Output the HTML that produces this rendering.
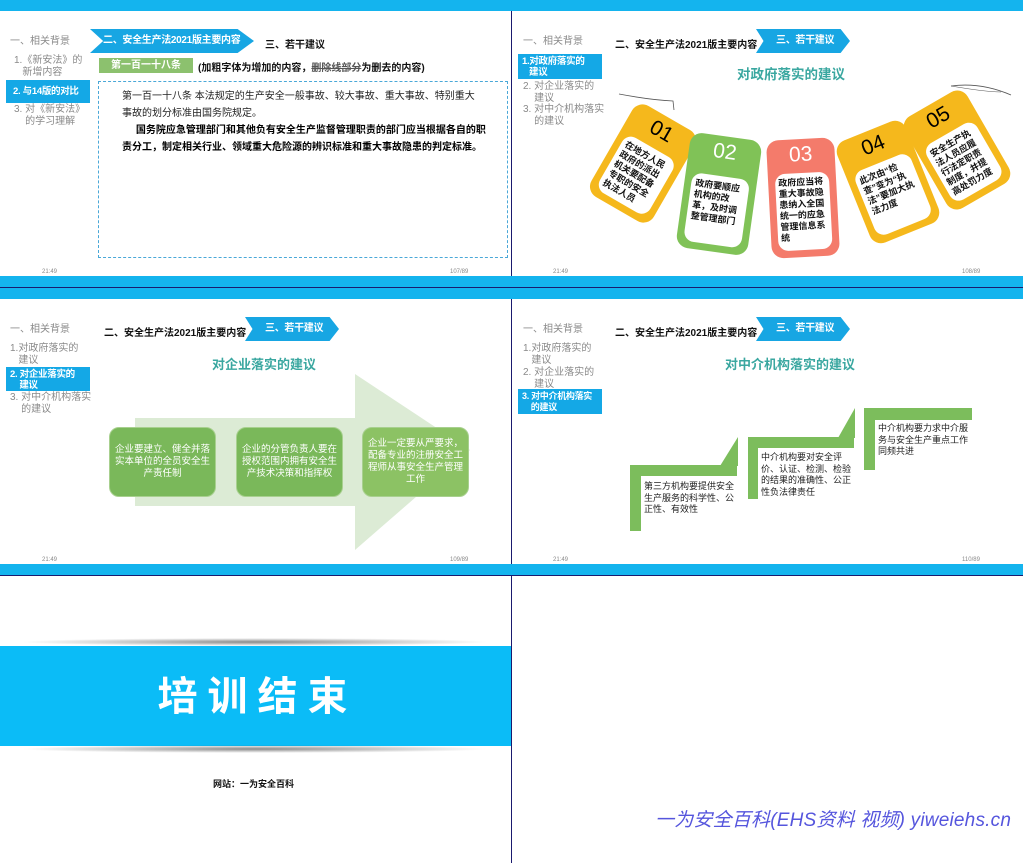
<!DOCTYPE html>
<html><head><meta charset="utf-8"><style>
*{margin:0;padding:0;box-sizing:border-box}
body{width:1023px;height:863px;background:#fff;position:relative;overflow:hidden;font-family:"Liberation Sans","Noto Sans CJK SC",sans-serif;}
.a{position:absolute;white-space:nowrap}
.bar{position:absolute;background:#14b4ee}
.g{color:#8a8a8a;font-size:10px;line-height:12px}
.b{color:#111;font-size:10px;font-weight:bold}
.hl{position:absolute;background:#14a8e6;color:#fff;font-size:9.5px;font-weight:bold;line-height:11px;padding:2px 0 0 4px;white-space:nowrap;letter-spacing:-0.3px}
.chev{position:absolute;background:#17a6e3;color:#fff;font-size:10px;font-weight:bold;line-height:24px;white-space:nowrap;letter-spacing:-0.3px;clip-path:polygon(0 0,90% 0,100% 50%,90% 100%,0 100%,8% 50%)}
.title{position:absolute;color:#3aa7a0;font-size:13px;font-weight:bold;white-space:nowrap}
.ft{position:absolute;font-size:6px;color:#888}
.tag{position:absolute;border-radius:12px}
.tag .in{position:absolute;left:7px;right:7px;top:34px;bottom:7px;background:#fff;border-radius:10px;font-size:9px;font-weight:bold;line-height:11px;padding:5px 4px;color:#111;white-space:normal;word-break:break-all}
.tag .n{position:absolute;top:4px;width:100%;text-align:center;font-size:21px}
.gb{position:absolute;background:#7ab85a;border-radius:10px;color:#fff;font-size:9.5px;line-height:12px;text-align:center;display:flex;align-items:center;justify-content:center;padding:0 5px;border:1px solid #a8d08f}
.gr{position:absolute;background:#7cbd5c}
.st{position:absolute;font-size:9px;line-height:11.5px;color:#222;white-space:normal}
</style></head><body>
<div class="a" style="left:511px;top:0;width:1px;height:863px;background:#1a1a6e"></div>
<div class="bar" style="left:0;top:0;width:1023px;height:11px"></div>
<div class="bar" style="left:0;top:276px;width:1023px;height:11px"></div>
<div class="a" style="left:0;top:287px;width:1023px;height:1px;background:#1a1a6e"></div>
<div class="bar" style="left:0;top:288px;width:1023px;height:11px"></div>
<div class="bar" style="left:0;top:564px;width:1023px;height:11px"></div>
<div class="a" style="left:0;top:575px;width:1023px;height:1px;background:#1a1a6e"></div>

<!-- Slide 1 -->
<div class="a g" style="left:10px;top:36px">一、相关背景</div>
<div class="chev" style="left:90px;top:29px;width:164px;padding-left:13px">二、安全生产法2021版主要内容</div>
<div class="a b" style="left:265px;top:36px">三、若干建议</div>
<div class="a g" style="left:14px;top:55px">1.《新安法》的<br>&nbsp;&nbsp;&nbsp;新增内容</div>
<div class="hl" style="left:6px;top:80px;width:84px;height:23px;line-height:19px;padding-left:7px">2. 与14版的对比</div>
<div class="a g" style="left:14px;top:104px">3. 对《新安法》<br>&nbsp;&nbsp;&nbsp;&nbsp;的学习理解</div>
<div class="a" style="left:99px;top:58px;width:94px;height:15px;background:#8cc16e;color:#fff;font-size:10px;font-weight:bold;text-align:center;line-height:15px">第一百一十八条</div>
<div class="a" style="left:198px;top:59px;font-size:10px;font-weight:bold;color:#111">(加粗字体为增加的内容，<s style="color:#555">删除线部分</s>为删去的内容)</div>
<div class="a" style="left:98px;top:81px;width:410px;height:177px;border:1px dashed #4aa8d8"></div>
<div class="a" style="left:122px;top:88px;font-size:10px;line-height:17px;color:#222">第一百一十八条 本法规定的生产安全一般事故、较大事故、重大事故、特别重大<br>事故的划分标准由国务院规定。<br><b style="color:#000">&nbsp;&nbsp;&nbsp;&nbsp;&nbsp;国务院应急管理部门和其他负有安全生产监督管理职责的部门应当根据各自的职<br>责分工，制定相关行业、领域重大危险源的辨识标准和重大事故隐患的判定标准。</b></div>
<div class="ft" style="left:42px;top:269px">21:49</div>
<div class="ft" style="left:450px;top:269px">107/89</div>

<!-- Slide 2 -->
<div class="a g" style="left:523px;top:36px">一、相关背景</div>
<div class="a b" style="left:615px;top:36px">二、安全生产法2021版主要内容</div>
<div class="chev" style="left:756px;top:29px;width:94px;padding-left:20px">三、若干建议</div>
<div class="hl" style="left:518px;top:54px;width:84px;height:25px">1.对政府落实的<br>&nbsp;&nbsp;&nbsp;建议</div>
<div class="a g" style="left:523px;top:81px">2. 对企业落实的<br>&nbsp;&nbsp;&nbsp;&nbsp;建议</div>
<div class="a g" style="left:523px;top:104px">3. 对中介机构落实<br>&nbsp;&nbsp;&nbsp;&nbsp;的建议</div>
<div class="title" style="left:737px;top:63px;font-size:13.5px">对政府落实的建议</div>
<svg class="a" style="left:511px;top:0" width="512" height="288"><path d="M108 94 Q140 100 162 101 L163 110" stroke="#555" fill="none" stroke-width="0.8"/><path d="M440 86 Q470 82 500 95" stroke="#555" fill="none" stroke-width="0.8"/><path d="M440 86 Q475 92 490 92" stroke="#555" fill="none" stroke-width="0.6"/></svg>
<div class="tag" style="left:607px;top:111px;width:72px;height:105px;background:#f5b81c;transform:rotate(30deg)"><div class="n">01</div><div class="in">在地方人民政府的派出机关要配备专职的安全执法人员</div></div>
<div class="tag" style="left:683px;top:136px;width:72px;height:116px;background:#80c257;transform:rotate(8deg)"><div class="n" style="color:#fff">02</div><div class="in" style="top:40px">政府要顺应机构的改革，及时调整管理部门</div></div>
<div class="tag" style="left:769px;top:139px;width:68px;height:118px;background:#f47b6b;transform:rotate(-3deg)"><div class="n" style="color:#fff">03</div><div class="in" style="padding:4px 3px">政府应当将重大事故隐患纳入全国统一的应急管理信息系统</div></div>
<div class="tag" style="left:851px;top:127px;width:74px;height:110px;background:#f5b81c;transform:rotate(-22deg)"><div class="n">04</div><div class="in">此次由“检查”变为“执法”要加大执法力度</div></div>
<div class="tag" style="left:921px;top:97px;width:72px;height:106px;background:#f5b81c;transform:rotate(-30deg)"><div class="n">05</div><div class="in">安全生产执法人员应履行法定职责制度，并提高处罚力度</div></div>
<div class="ft" style="left:553px;top:269px">21:49</div>
<div class="ft" style="left:962px;top:269px">108/89</div>

<!-- Slide 3 -->
<div class="a g" style="left:10px;top:324px">一、相关背景</div>
<div class="a b" style="left:104px;top:324px">二、安全生产法2021版主要内容</div>
<div class="chev" style="left:245px;top:317px;width:94px;padding-left:20px">三、若干建议</div>
<div class="a g" style="left:10px;top:343px">1.对政府落实的<br>&nbsp;&nbsp;&nbsp;建议</div>
<div class="hl" style="left:6px;top:367px;width:84px;height:24px">2. 对企业落实的<br>&nbsp;&nbsp;&nbsp;&nbsp;建议</div>
<div class="a g" style="left:10px;top:392px">3. 对中介机构落实<br>&nbsp;&nbsp;&nbsp;&nbsp;的建议</div>
<div class="title" style="left:212px;top:354px">对企业落实的建议</div>
<svg class="a" style="left:0;top:288px" width="511" height="288"><polygon points="135,130 355,130 355,86 470,162 355,262 355,218 135,218" fill="#dcebd5"/></svg>
<div class="gb" style="left:109px;top:427px;width:107px;height:70px">企业要建立、健全并落实本单位的全员安全生产责任制</div>
<div class="gb" style="left:236px;top:427px;width:107px;height:70px">企业的分管负责人要在授权范围内拥有安全生产技术决策和指挥权</div>
<div class="gb" style="left:362px;top:427px;width:107px;height:70px;background:#8cc264">企业一定要从严要求，配备专业的注册安全工程师从事安全生产管理工作</div>
<div class="ft" style="left:42px;top:557px">21:49</div>
<div class="ft" style="left:450px;top:557px">109/89</div>

<!-- Slide 4 -->
<div class="a g" style="left:523px;top:324px">一、相关背景</div>
<div class="a b" style="left:615px;top:324px">二、安全生产法2021版主要内容</div>
<div class="chev" style="left:756px;top:317px;width:94px;padding-left:20px">三、若干建议</div>
<div class="a g" style="left:523px;top:343px">1.对政府落实的<br>&nbsp;&nbsp;&nbsp;建议</div>
<div class="a g" style="left:523px;top:367px">2. 对企业落实的<br>&nbsp;&nbsp;&nbsp;&nbsp;建议</div>
<div class="hl" style="left:518px;top:389px;width:84px;height:25px;font-size:9px">3. 对中介机构落实<br>&nbsp;&nbsp;&nbsp;&nbsp;的建议</div>
<div class="title" style="left:725px;top:354px">对中介机构落实的建议</div>
<div class="gr" style="left:630px;top:465px;width:11px;height:66px"></div>
<div class="gr" style="left:630px;top:465px;width:107px;height:11px"></div>
<svg class="a" style="left:720px;top:437px" width="18" height="29"><polygon points="18,0 18,29 0,29" fill="#7cbd5c"/></svg>
<div class="gr" style="left:748px;top:437px;width:10px;height:62px"></div>
<div class="gr" style="left:748px;top:437px;width:106px;height:11px"></div>
<svg class="a" style="left:838px;top:408px" width="17" height="30"><polygon points="17,0 17,30 0,30" fill="#7cbd5c"/></svg>
<div class="gr" style="left:864px;top:408px;width:11px;height:62px"></div>
<div class="gr" style="left:864px;top:408px;width:108px;height:12px"></div>
<div class="st" style="left:644px;top:481px;width:92px">第三方机构要提供安全生产服务的科学性、公正性、有效性</div>
<div class="st" style="left:761px;top:452px;width:92px">中介机构要对安全评价、认证、检测、检验的结果的准确性、公正性负法律责任</div>
<div class="st" style="left:878px;top:423px;width:92px">中介机构要力求中介服务与安全生产重点工作同频共进</div>
<div class="ft" style="left:553px;top:557px">21:49</div>
<div class="ft" style="left:962px;top:557px">110/89</div>

<!-- Slide 5 -->
<div class="a" style="left:20px;top:638px;width:470px;height:8px;background:radial-gradient(ellipse at center,rgba(60,60,60,.6),rgba(255,255,255,0) 70%)"></div>
<div class="a" style="left:0;top:646px;width:511px;height:100px;background:#0bbcf7"></div>
<div class="a" style="left:20px;top:745px;width:470px;height:8px;background:radial-gradient(ellipse at center,rgba(60,60,60,.6),rgba(255,255,255,0) 70%)"></div>
<div class="a" style="left:0;top:674px;width:511px;text-align:center;color:#fff;font-size:40px;font-weight:bold;letter-spacing:10px;line-height:46px;padding-left:4px">培训结束</div>
<div class="a" style="left:213px;top:777px;font-size:9px;font-weight:bold;color:#111">网站：一为安全百科</div>
<div class="a" style="left:655px;top:805px;font-size:19px;font-style:italic;color:#5555dd;letter-spacing:0.2px">一为安全百科(EHS资料 视频) yiweiehs.cn</div>
</body></html>
